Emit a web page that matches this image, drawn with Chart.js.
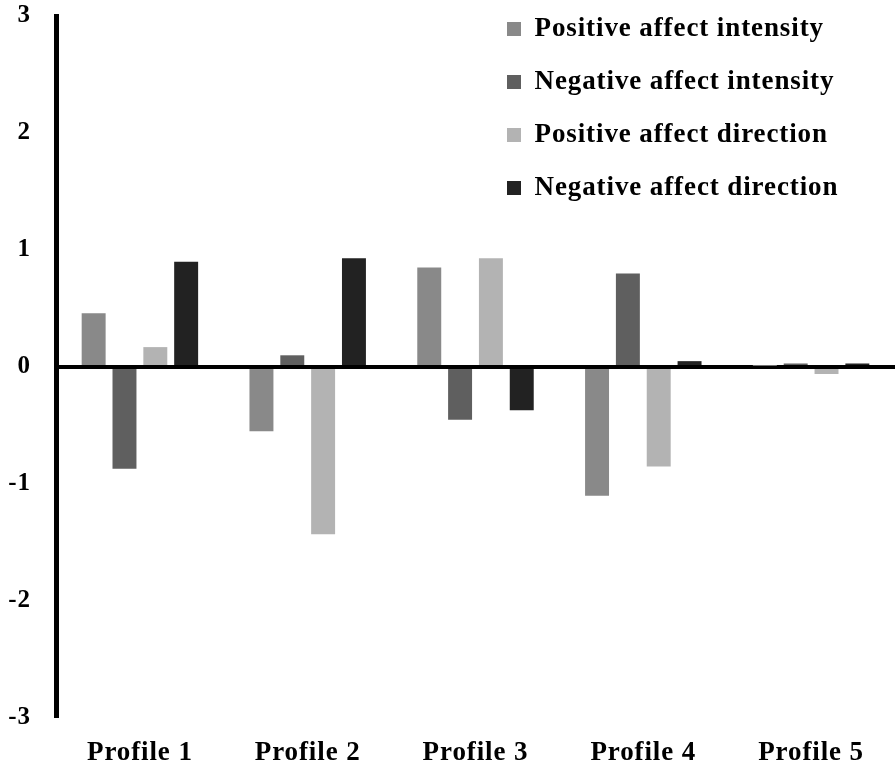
<!DOCTYPE html>
<html>
<head>
<meta charset="utf-8">
<script src="https://cdn.jsdelivr.net/npm/chart.js@4.4.1/dist/chart.umd.min.js"></script>
<style>
  html, body { margin: 0; padding: 0; background: #fff; }
  #wrap { width: 895px; height: 764px; }
</style>
</head>
<body>
<div id="wrap"><canvas id="profiles-canvas" width="895" height="764"></canvas></div>
<script>
let profiles = ['Profile 1', 'Profile 2', 'Profile 3', 'Profile 4', 'Profile 5'];
let seriesNames = ['Positive affect intensity', 'Negative affect intensity',
    'Positive affect direction', 'Negative affect direction'];
let posIntensity = [0.46, -0.55, 0.85, -1.10, 0.01];
let negIntensity = [-0.87, 0.10, -0.45, 0.80, 0.03];
let posDirection = [0.17, -1.43, 0.93, -0.85, -0.06];
let negDirection = [0.90, 0.93, -0.37, 0.05, 0.03];
let yTicks = [-3, -2, -1, 0, 1, 2, 3];

let barColors = ['#898989', '#5f5f5f', '#b3b3b3', '#222222'];
let allSeries = [posIntensity, negIntensity, posDirection, negDirection];

let fontFamily = '"Liberation Serif", "Times New Roman", serif';

// spread letters a bit, the original text is wide
let spacing = {
    id: 'spacing',
    beforeLayout(chart) { chart.ctx.letterSpacing = '0.9px'; },
    beforeDraw(chart) { chart.ctx.letterSpacing = '0.9px'; }
};

// move the legend into the top right corner of the plot
let legendSpot = {
    id: 'legendSpot',
    afterLayout(chart) {
        let l = chart.legend;
        let w = l.width;
        l.left = 481;
        l.right = 481 + w;
        l.top = -10.5;
    }
};

let config_profiles = {
    type: 'bar',
    data: {
        labels: profiles,
        datasets: []
    },
    options: {
        responsive: false,
        animation: false,
        devicePixelRatio: 1,
        layout: { padding: { top: 16, right: 0, bottom: 0, left: 0 } },
        datasets: {
            bar: { categoryPercentage: 0.735, barPercentage: 0.777 }
        },
        plugins: {
            tooltip: { enabled: false },
            legend: {
                position: 'chartArea',
                align: 'start',
                labels: {
                    boxWidth: 14,
                    boxHeight: 14,
                    padding: 26,
                    color: '#000',
                    font: { family: fontFamily, size: 27, weight: 'bold' }
                }
            }
        },
        scales: {
            x: {
                afterFit(scale) { scale.height = 46; },
                grid: { display: false, drawTicks: false },
                border: { display: false },
                ticks: {
                    color: '#000',
                    padding: 19,
                    font: { family: fontFamily, size: 27, weight: 'bold' }
                }
            },
            y: {
                min: yTicks[0],
                max: yTicks[yTicks.length - 1],
                z: 1,
                afterFit(scale) {
                    scale.width = 56;
                    scale.paddingTop = 0;
                    scale.paddingBottom = 0;
                },
                afterBuildTicks(scale) { scale.ticks = yTicks.map(v => ({ value: v })); },
                grid: {
                    drawTicks: false,
                    color: c => c.tick && c.tick.value === 0 ? '#000' : 'rgba(0,0,0,0)',
                    lineWidth: c => c.tick && c.tick.value === 0 ? 4 : 0
                },
                border: { display: true, color: '#000', width: 5 },
                ticks: {
                    color: '#000',
                    padding: 25,
                    font: { family: fontFamily, size: 25, weight: 'bold' }
                }
            }
        }
    },
    plugins: [spacing, legendSpot]
};

for (let i = 0; i < seriesNames.length; i++) {
    config_profiles.data.datasets.push({
        label: seriesNames[i],
        data: allSeries[i],
        backgroundColor: barColors[i],
        borderWidth: 0
    });
}

let profilesChart = new Chart(document.getElementById('profiles-canvas'), config_profiles);
</script>
</body>
</html>
